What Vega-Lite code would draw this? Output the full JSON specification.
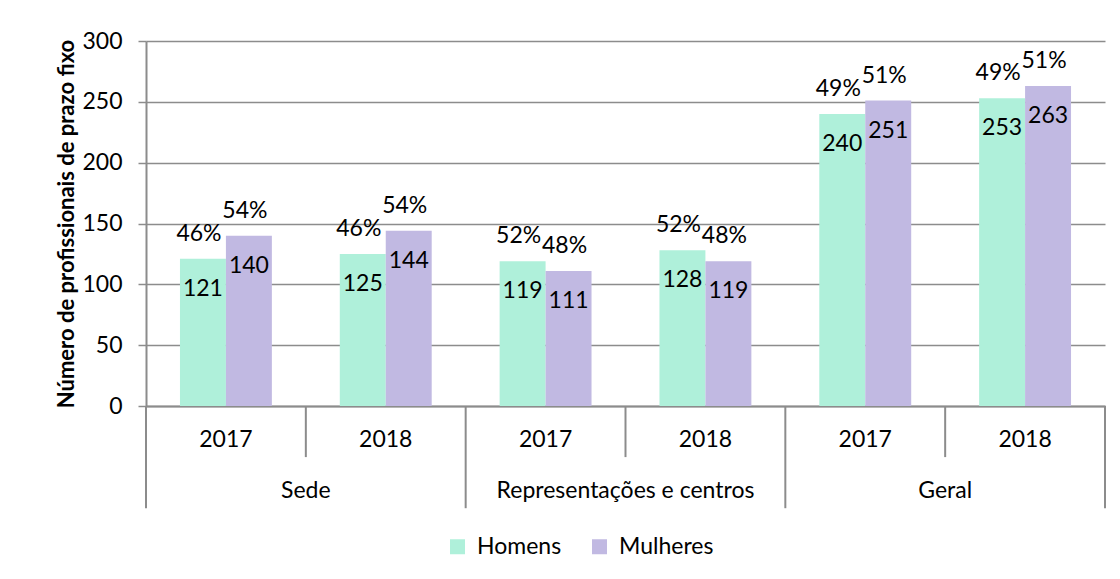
{
  "$schema": "https://vega.github.io/schema/vega-lite/v6.json",
  "width": 959,
  "height": 365,
  "autosize": {"type": "none"},
  "padding": {"left": 146, "top": 41, "right": 15, "bottom": 173},
  "background": "white",
  "config": {
    "font": "Lato",
    "view": {"stroke": null}
  },
  "data": {
    "values": [
      {"grupo": "Sede", "ano": "2017", "cat": "Sede 2017", "sexo": "Homens", "valor": 121, "pct": "46%"},
      {"grupo": "Sede", "ano": "2017", "cat": "Sede 2017", "sexo": "Mulheres", "valor": 140, "pct": "54%"},
      {"grupo": "Sede", "ano": "2018", "cat": "Sede 2018", "sexo": "Homens", "valor": 125, "pct": "46%"},
      {"grupo": "Sede", "ano": "2018", "cat": "Sede 2018", "sexo": "Mulheres", "valor": 144, "pct": "54%"},
      {"grupo": "Representações e centros", "ano": "2017", "cat": "Representações e centros 2017", "sexo": "Homens", "valor": 119, "pct": "52%"},
      {"grupo": "Representações e centros", "ano": "2017", "cat": "Representações e centros 2017", "sexo": "Mulheres", "valor": 111, "pct": "48%"},
      {"grupo": "Representações e centros", "ano": "2018", "cat": "Representações e centros 2018", "sexo": "Homens", "valor": 128, "pct": "52%"},
      {"grupo": "Representações e centros", "ano": "2018", "cat": "Representações e centros 2018", "sexo": "Mulheres", "valor": 119, "pct": "48%"},
      {"grupo": "Geral", "ano": "2017", "cat": "Geral 2017", "sexo": "Homens", "valor": 240, "pct": "49%"},
      {"grupo": "Geral", "ano": "2017", "cat": "Geral 2017", "sexo": "Mulheres", "valor": 251, "pct": "51%"},
      {"grupo": "Geral", "ano": "2018", "cat": "Geral 2018", "sexo": "Homens", "valor": 253, "pct": "49%"},
      {"grupo": "Geral", "ano": "2018", "cat": "Geral 2018", "sexo": "Mulheres", "valor": 263, "pct": "51%"}
    ]
  },
  "encoding": {
    "x": {
      "field": "cat", "type": "nominal",
      "sort": ["Sede 2017", "Sede 2018", "Representações e centros 2017", "Representações e centros 2018", "Geral 2017", "Geral 2018"],
      "scale": {"paddingInner": 0, "paddingOuter": 0},
      "axis": {
        "title": null, "labels": false, "ticks": false, "grid": false,
        "domainColor": "#8c8c8c", "domainWidth": 2
      }
    },
    "y": {
      "field": "valor", "type": "quantitative",
      "scale": {"domain": [0, 300], "nice": false},
      "axis": {
        "title": "Número de profissionais de prazo fixo",
        "titleFontSize": 22, "titleFontWeight": "bold", "titleFont": "Lato", "titleColor": "#000000", "titlePadding": 3,
        "values": [0, 50, 100, 150, 200, 250, 300],
        "grid": true, "gridColor": "#8c8c8c", "gridWidth": 1.5,
        "tickSize": 8, "tickColor": "#8c8c8c", "tickWidth": 1.5,
        "domainColor": "#8c8c8c", "domainWidth": 2,
        "labelFontSize": 23, "labelFont": "Lato", "labelColor": "#000000", "labelPadding": 16
      }
    }
  },
  "layer": [
    {
      "mark": {"type": "bar"},
      "encoding": {
        "xOffset": {"field": "sexo", "type": "nominal", "scale": {"domain": ["Homens", "Mulheres"], "paddingInner": 0, "paddingOuter": 0.739}},
        "color": {
          "field": "sexo", "type": "nominal",
          "scale": {"domain": ["Homens", "Mulheres"], "range": ["#AFF0DA", "#C1B9E2"]},
          "legend": {
            "title": null, "orient": "none", "direction": "horizontal",
            "legendX": 300, "legendY": 494,
            "symbolType": "square", "symbolSize": 225, "symbolStrokeWidth": 0,
            "labelFontSize": 23, "labelFont": "Lato", "labelColor": "#000000",
            "columnPadding": 26, "labelOffset": 8
          }
        }
      }
    },
    {
      "mark": {"type": "text", "dy": 30, "baseline": "middle", "align": "center", "fontSize": 23, "font": "Lato", "color": "#000000"},
      "encoding": {
        "xOffset": {"field": "sexo", "type": "nominal", "scale": {"domain": ["Homens", "Mulheres"], "paddingInner": 0, "paddingOuter": 0.739}},
        "text": {"field": "valor", "type": "quantitative"}
      }
    },
    {
      "mark": {"type": "text", "dy": -25, "dx": -4, "baseline": "middle", "align": "center", "fontSize": 23, "font": "Lato", "color": "#000000"},
      "encoding": {
        "xOffset": {"field": "sexo", "type": "nominal", "scale": {"domain": ["Homens", "Mulheres"], "paddingInner": 0, "paddingOuter": 0.739}},
        "text": {"field": "pct", "type": "nominal"}
      }
    },
    {
      "transform": [{"filter": "datum.ano == '2017' && datum.sexo == 'Homens'"}],
      "mark": {"type": "rule", "color": "#8c8c8c", "strokeWidth": 2, "clip": false},
      "encoding": {
        "x": {"field": "cat", "type": "nominal", "bandPosition": 0},
        "y": {"datum": 0},
        "y2": {"datum": -84}
      }
    },
    {
      "transform": [{"filter": "datum.ano == '2018' && datum.sexo == 'Homens'"}],
      "mark": {"type": "rule", "color": "#8c8c8c", "strokeWidth": 2, "clip": false},
      "encoding": {
        "x": {"field": "cat", "type": "nominal", "bandPosition": 0},
        "y": {"datum": 0},
        "y2": {"datum": -42}
      }
    },
    {
      "transform": [{"filter": "datum.cat == 'Geral 2018' && datum.sexo == 'Homens'"}],
      "mark": {"type": "rule", "color": "#8c8c8c", "strokeWidth": 2, "clip": false},
      "encoding": {
        "x": {"field": "cat", "type": "nominal", "bandPosition": 1},
        "y": {"datum": 0},
        "y2": {"datum": -84}
      }
    },
    {
      "transform": [{"filter": "datum.sexo == 'Homens'"}],
      "mark": {"type": "text", "baseline": "middle", "align": "center", "fontSize": 23, "font": "Lato", "color": "#000000", "clip": false},
      "encoding": {
        "x": {"field": "cat", "type": "nominal", "bandPosition": 0.5},
        "y": {"datum": -28},
        "text": {"field": "ano", "type": "nominal"}
      }
    },
    {
      "transform": [{"filter": "datum.ano == '2017' && datum.sexo == 'Homens'"}],
      "mark": {"type": "text", "baseline": "middle", "align": "center", "fontSize": 23, "font": "Lato", "color": "#000000", "clip": false},
      "encoding": {
        "x": {"field": "cat", "type": "nominal", "bandPosition": 1},
        "y": {"datum": -70},
        "text": {"field": "grupo", "type": "nominal"}
      }
    }
  ]
}
